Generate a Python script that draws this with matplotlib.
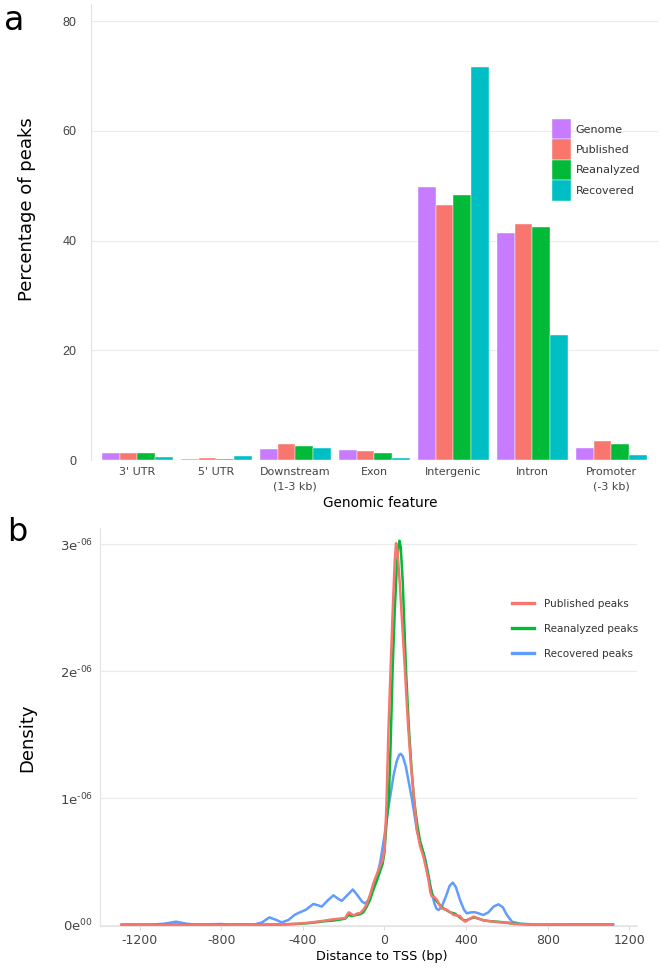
import numpy as np
import matplotlib
matplotlib.use("Agg")
import matplotlib.pyplot as plt
from matplotlib.patches import Patch
from matplotlib.lines import Line2D

plt.rcParams['font.family'] = ['DejaVu Sans']
plt.rcParams['axes.unicode_minus'] = False

# ---- panel a data: percentage of peaks per genomic feature ----
features = ["3' UTR", "5' UTR", "Downstream\n(1-3 kb)", "Exon", "Intergenic", "Intron", "Promoter\n(-3 kb)"]
genome = [1.28, 0.25, 2.07, 1.78, 49.7, 41.4, 2.25]
published = [1.2, 0.43, 2.92, 1.55, 46.4, 43.0, 3.53]
reanalyzed = [1.2, 0.12, 2.55, 1.32, 48.3, 42.5, 2.86]
recovered = [0.5, 0.73, 2.19, 0.29, 71.7, 22.8, 0.85]
bar_series = ["Genome", "Published", "Reanalyzed", "Recovered"]
bar_colors = ["#C77CFF", "#F8766D", "#00BA38", "#00BFC4"]

# ---- panel b data: density of distance to TSS (values in units of 1e-6) ----
pub_x = [-1290, -1100, -900, -700, -560, -510, -460, -412, -370, -331, -290, -250, -220,
         -192, -175, -160, -150, -135, -118, -103, -88, -70, -54, -37, -20, -9, 0, 5, 10,
         20, 30, 40, 50, 57, 64, 75, 88, 101, 115, 128, 138, 148, 159, 175, 191, 205, 216,
         225, 232, 245, 257, 270, 281, 295, 306, 322, 339, 355, 371, 385, 396, 415, 436,
         455, 478, 505, 534, 560, 583, 605, 632, 680, 800, 900, 1000, 1120]
pub_y = [0.003, 0.002, 0.003, 0.002, 0.004, 0.005, 0.008, 0.012, 0.018, 0.026, 0.035, 0.045,
         0.05, 0.055, 0.1, 0.085, 0.075, 0.09, 0.095, 0.12, 0.16, 0.24, 0.33, 0.40, 0.47, 0.51,
         0.6, 0.75, 0.95, 1.55, 2.0, 2.45, 2.85, 3.01, 2.95, 2.7, 2.35, 2.0, 1.6, 1.3, 1.12,
         0.95, 0.75, 0.62, 0.54, 0.44, 0.355, 0.26, 0.225, 0.22, 0.20, 0.16, 0.13, 0.125,
         0.12, 0.1, 0.08, 0.075, 0.07, 0.04, 0.026, 0.045, 0.066, 0.055, 0.04, 0.032, 0.026,
         0.022, 0.018, 0.02, 0.008, 0.005, 0.006, 0.003, 0.004, 0.003]

rea_x = [-1290, -1100, -900, -700, -560, -510, -460, -412, -370, -331, -290, -250, -220,
         -192, -175, -160, -135, -118, -103, -88, -70, -54, -37, -20, -9, 0, 10, 22, 30, 40,
         50, 60, 68, 74, 80, 90, 106, 120, 132, 144, 152, 162, 175, 191, 205, 216, 225, 235,
         250, 265, 281, 300, 322, 345, 365, 385, 400, 420, 440, 460, 490, 520, 560, 590, 620,
         700, 800, 900, 1000, 1120]
rea_y = [0.003, 0.002, 0.003, 0.002, 0.003, 0.004, 0.006, 0.01, 0.015, 0.022, 0.03, 0.035,
         0.042, 0.05, 0.08, 0.07, 0.08, 0.085, 0.1, 0.14, 0.2, 0.28, 0.35, 0.43, 0.48, 0.57,
         0.8, 1.01, 1.4, 2.0, 2.45, 2.8, 2.98, 3.03, 2.98, 2.7, 2.0, 1.55, 1.25, 1.01, 0.9,
         0.78, 0.66, 0.57, 0.47, 0.38, 0.3, 0.24, 0.2, 0.17, 0.14, 0.12, 0.1, 0.09, 0.065,
         0.04, 0.035, 0.05, 0.06, 0.05, 0.035, 0.03, 0.025, 0.02, 0.012, 0.005, 0.005, 0.003,
         0.004, 0.003]

rec_x = [-1287, -1150, -1080, -1021, -970, -920, -800, -760, -700, -640, -600, -564, -530,
         -503, -470, -440, -418, -385, -348, -325, -307, -280, -250, -230, -209, -185, -155,
         -130, -110, -95, -75, -55, -37, -20, 0, 15, 28, 45, 60, 72, 80, 90, 105, 120, 134,
         148, 159, 175, 200, 215, 230, 245, 255, 265, 280, 300, 320, 335, 350, 370, 390, 404,
         425, 445, 465, 485, 510, 535, 559, 580, 600, 625, 665, 720, 800, 900, 1000, 1123]
rec_y = [0.0, 0.002, 0.01, 0.026, 0.01, 0.002, 0.008, 0.003, 0.006, 0.003, 0.02, 0.06, 0.04,
         0.02, 0.04, 0.08, 0.097, 0.12, 0.166, 0.155, 0.145, 0.19, 0.234, 0.21, 0.19, 0.23,
         0.28, 0.23, 0.185, 0.17, 0.2, 0.28, 0.38, 0.5, 0.7, 0.88, 1.01, 1.18, 1.29, 1.34,
         1.35, 1.33, 1.25, 1.12, 1.0, 0.86, 0.75, 0.65, 0.52, 0.4, 0.27, 0.17, 0.13, 0.118,
         0.14, 0.22, 0.31, 0.334, 0.3, 0.2, 0.12, 0.092, 0.1, 0.1, 0.09, 0.079, 0.1, 0.145,
         0.163, 0.14, 0.08, 0.026, 0.01, 0.006, 0.004, 0.003, 0.005, 0.004]

line_labels = ["Published peaks", "Reanalyzed peaks", "Recovered peaks"]
line_colors = ["#F8766D", "#00BA38", "#619CFF"]

tick_col = '#444444'
grid_col = '#ebebeb'
W, H = 664, 968

fig = plt.figure(figsize=(W / 100, H / 100), dpi=100)

# ---------------- panel a ----------------
ax1 = fig.add_axes([90.7 / W, 1 - 460 / H, (658 - 90.7) / W, (460 - 4) / H])
x = np.arange(len(features))
width = 0.225
for i, (vals, col) in enumerate(zip([genome, published, reanalyzed, recovered], bar_colors)):
    ax1.bar(x + (i - 1.5) * width, vals, width, color=col, edgecolor='white', linewidth=0.3)

ax1.set_xlim(-0.59, 6.59)
ax1.set_ylim(0, 83.1)
ax1.set_yticks([0, 20, 40, 60, 80])
ax1.set_xticks(x)
ax1.set_xticklabels(features, linespacing=1.6)
ax1.tick_params(axis='x', length=0, pad=5, labelsize=8, labelcolor=tick_col)
ax1.tick_params(axis='y', length=0, pad=10, labelsize=9, labelcolor=tick_col)
for lab in ax1.get_yticklabels():
    lab.set_fontfamily('Liberation Sans')
ax1.grid(axis='y', color=grid_col, linewidth=0.8)
ax1.set_axisbelow(True)
for s in ['top', 'right', 'bottom']:
    ax1.spines[s].set_visible(False)
ax1.spines['left'].set_color('#e3e3e3')

handles = [Patch(facecolor=c, edgecolor='white', linewidth=0.3, label=l) for c, l in zip(bar_colors, bar_series)]
ax1.legend(handles=handles, loc='upper left', bbox_to_anchor=(0.8126, 0.748), frameon=False,
           fontsize=8, handlelength=1.7, handleheight=2.45, labelspacing=0.0,
           handletextpad=0.45, borderpad=0, borderaxespad=0, labelcolor='#333333')

# ---------------- panel b ----------------
ax2 = fig.add_axes([100 / W, 1 - 926 / H, 537 / W, 398 / H])
ax2.plot(rec_x, np.array(rec_y) * 1e-6, color=line_colors[2], lw=1.8, solid_capstyle='round')
ax2.plot(rea_x, np.array(rea_y) * 1e-6, color=line_colors[1], lw=1.8, solid_capstyle='round')
ax2.plot(pub_x, np.array(pub_y) * 1e-6, color=line_colors[0], lw=1.8, solid_capstyle='round')

ax2.set_xlim(-1394, 1238)
ax2.set_ylim(-0.008e-6, 3.13e-6)
xt = [-1200, -800, -400, 0, 400, 800, 1200]
ax2.set_xticks(xt)
ax2.set_xticklabels([str(v) for v in xt])
ax2.set_yticks([0, 1e-6, 2e-6, 3e-6])
ax2.set_yticklabels(['0e$^{00}$', '1e$^{\u201006}$', '2e$^{\u201006}$', '3e$^{\u201006}$'])
ax2.tick_params(axis='x', length=3, width=0.6, color='#d5d5d5', pad=3, labelsize=9, labelcolor=tick_col)
ax2.tick_params(axis='y', length=0, pad=5, labelsize=9.5, labelcolor=tick_col)
ax2.grid(axis='y', color=grid_col, linewidth=0.8)
ax2.set_axisbelow(True)
for s in ['top', 'right']:
    ax2.spines[s].set_visible(False)
for s in ['left', 'bottom']:
    ax2.spines[s].set_color('#e3e3e3')

lh = [Line2D([0], [0], color=c, lw=2.4, label=l) for c, l in zip(line_colors, line_labels)]
ax2.legend(handles=lh, loc='upper left', bbox_to_anchor=(0.767, 0.822), frameon=False,
           fontsize=7.5, handlelength=2.1, handletextpad=0.95, labelspacing=1.45,
           borderpad=0, borderaxespad=0, labelcolor='#333333')

# ---------------- titles and panel letters ----------------
fig.text(4 / W, 1 - 30 / H, 'a', fontsize=24, va='baseline')
fig.text(7 / W, 1 - 541 / H, 'b', fontsize=23, va='baseline')
fig.text(27 / W, 1 - 209.5 / H, 'Percentage of peaks', fontsize=13, rotation=90, ha='center', va='center')
fig.text(27 / W, 1 - 738 / H, 'Density', fontsize=13, rotation=90, ha='center', va='center')
fig.text(380 / W, 1 - 507 / H, 'Genomic feature', fontsize=9.8, ha='center', va='baseline')
fig.text(382 / W, 1 - 960 / H, 'Distance to TSS (bp)', fontsize=9.2, ha='center', va='baseline')

fig.savefig('out.png', dpi=100)
